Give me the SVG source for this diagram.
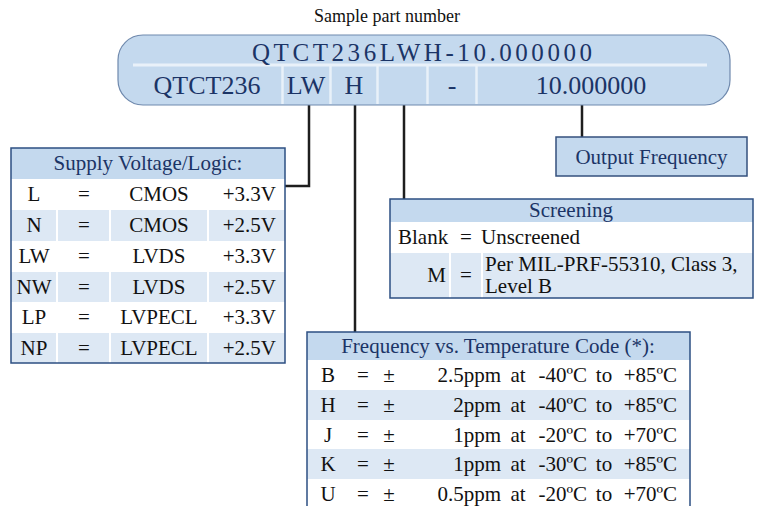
<svg xmlns="http://www.w3.org/2000/svg" width="762" height="506" viewBox="0 0 762 506">
<style>
text{font-family:"Liberation Serif","Times New Roman",serif;}
.t{font-size:21px;fill:#111;}
.hd{font-size:21px;fill:#1b3466;}
.c{text-anchor:middle;}
.e{text-anchor:end;}
.hf{fill:#c4d9ee;}
.alt{fill:#dde8f4;}
.brd{fill:none;stroke:#2d4f82;stroke-width:1.5;}
.dv{stroke:#ffffff;stroke-width:2;}
.con{fill:none;stroke:#1e1e1e;stroke-width:2.5;}
</style>
<rect width="762" height="506" fill="#ffffff"/>
<g id="title"><text x="387" y="22" class="c" font-size="18" fill="#111">Sample part number</text></g>
<g id="connectors">
<path class="con" d="M309 105 V186 H285"/>
<path class="con" d="M355 105 V332"/>
<path class="con" d="M404 105 V199"/>
<path class="con" d="M582 105 V137"/>
</g>
<g id="part-number">
<rect x="118" y="35" width="612" height="70" rx="25" fill="#c4d9ee" stroke="#6f89ad" stroke-width="1.2"/>
<line x1="133" y1="65" x2="707" y2="65" stroke="#e9f1f9" stroke-width="3"/>
<g stroke="#e9f1f9" stroke-width="2.5">
<line x1="282.5" y1="66" x2="282.5" y2="104"/>
<line x1="330.5" y1="66" x2="330.5" y2="104"/>
<line x1="377.5" y1="66" x2="377.5" y2="104"/>
<line x1="427.5" y1="66" x2="427.5" y2="104"/>
<line x1="476.5" y1="66" x2="476.5" y2="104"/>
</g>
<text x="252" y="61" font-size="25" fill="#1b3466" textLength="340" lengthAdjust="spacing">QTCT236LWH-10.000000</text>
<g font-size="26" fill="#1b3466" text-anchor="middle">
<text x="207" y="94">QTCT236</text>
<text x="306" y="94">LW</text>
<text x="354" y="94">H</text>
<text x="452" y="94">-</text>
<text x="591" y="94">10.000000</text>
</g>
</g>
<g id="output-frequency">
<rect x="556" y="137" width="191" height="39" fill="#c4d9ee" stroke="#34507d" stroke-width="1.5"/>
<text x="651.5" y="164" class="hd c">Output Frequency</text>
</g>
<g id="supply-voltage">
<rect x="11" y="148" width="274" height="31" class="hf"/>
<rect x="11" y="179" width="274" height="184" fill="#fff"/>
<rect x="11" y="210" width="274" height="31" class="alt"/>
<rect x="11" y="272" width="274" height="30" class="alt"/>
<rect x="11" y="333" width="274" height="30" class="alt"/>
<line class="dv" x1="57" y1="179" x2="57" y2="363"/>
<line class="dv" x1="110" y1="179" x2="110" y2="363"/>
<line class="dv" x1="208" y1="179" x2="208" y2="363"/>
<rect x="11" y="148" width="274" height="215" class="brd"/>
<text x="148" y="170" class="hd c">Supply Voltage/Logic:</text>
<g class="t">
<text x="34" y="201" class="c">L</text><text x="84" y="201" class="c">=</text><text x="159" y="201" class="c">CMOS</text><text x="276" y="201" class="e">+3.3V</text>
<text x="34" y="232" class="c">N</text><text x="84" y="232" class="c">=</text><text x="159" y="232" class="c">CMOS</text><text x="276" y="232" class="e">+2.5V</text>
<text x="34" y="263" class="c">LW</text><text x="84" y="263" class="c">=</text><text x="159" y="263" class="c">LVDS</text><text x="276" y="263" class="e">+3.3V</text>
<text x="34" y="294" class="c">NW</text><text x="84" y="294" class="c">=</text><text x="159" y="294" class="c">LVDS</text><text x="276" y="294" class="e">+2.5V</text>
<text x="34" y="324" class="c">LP</text><text x="84" y="324" class="c">=</text><text x="159" y="324" class="c">LVPECL</text><text x="276" y="324" class="e">+3.3V</text>
<text x="34" y="355" class="c">NP</text><text x="84" y="355" class="c">=</text><text x="159" y="355" class="c">LVPECL</text><text x="276" y="355" class="e">+2.5V</text>
</g>
</g>
<g id="screening">
<rect x="390" y="199" width="363" height="23" class="hf"/>
<rect x="390" y="222" width="363" height="31" fill="#fff"/>
<rect x="390" y="253" width="363" height="45" class="alt"/>
<line class="dv" x1="450" y1="253" x2="450" y2="298"/>
<line class="dv" x1="482" y1="253" x2="482" y2="298"/>
<rect x="390" y="199" width="363" height="99" class="brd"/>
<text x="571" y="217" class="hd c" font-size="19">Screening</text>
<g class="t" font-size="20">
<text x="398" y="244">Blank</text><text x="466" y="244" class="c">=</text><text x="481" y="244">Unscreened</text>
<text x="446" y="282" class="e">M</text><text x="466" y="282" class="c">=</text>
</g>
<g class="t" font-size="19.5">
<text x="485" y="271">Per MIL-PRF-55310, Class 3,</text>
<text x="485" y="293">Level B</text>
</g>
</g>
<g id="freq-temp">
<rect x="307" y="332" width="383" height="28" class="hf"/>
<rect x="307" y="360" width="383" height="150" fill="#fff"/>
<rect x="307" y="390" width="383" height="30" class="alt"/>
<rect x="307" y="449" width="383" height="30" class="alt"/>
<rect x="307" y="332" width="383" height="178" class="brd"/>
<text x="498" y="353" class="hd c">Frequency vs. Temperature Code (*):</text>
<g class="t">
<text x="328" y="382" class="c">B</text><text x="363" y="382" class="c">=</text><text x="389" y="382" class="c">±</text><text x="501" y="382" class="e">2.5ppm</text><text x="518" y="382" class="c">at</text><text x="587" y="382" class="e">-40ºC</text><text x="604" y="382" class="c">to</text><text x="677" y="382" class="e">+85ºC</text>
<text x="328" y="412" class="c">H</text><text x="363" y="412" class="c">=</text><text x="389" y="412" class="c">±</text><text x="501" y="412" class="e">2ppm</text><text x="518" y="412" class="c">at</text><text x="587" y="412" class="e">-40ºC</text><text x="604" y="412" class="c">to</text><text x="677" y="412" class="e">+85ºC</text>
<text x="328" y="442" class="c">J</text><text x="363" y="442" class="c">=</text><text x="389" y="442" class="c">±</text><text x="501" y="442" class="e">1ppm</text><text x="518" y="442" class="c">at</text><text x="587" y="442" class="e">-20ºC</text><text x="604" y="442" class="c">to</text><text x="677" y="442" class="e">+70ºC</text>
<text x="328" y="471" class="c">K</text><text x="363" y="471" class="c">=</text><text x="389" y="471" class="c">±</text><text x="501" y="471" class="e">1ppm</text><text x="518" y="471" class="c">at</text><text x="587" y="471" class="e">-30ºC</text><text x="604" y="471" class="c">to</text><text x="677" y="471" class="e">+85ºC</text>
<text x="328" y="501" class="c">U</text><text x="363" y="501" class="c">=</text><text x="389" y="501" class="c">±</text><text x="501" y="501" class="e">0.5ppm</text><text x="518" y="501" class="c">at</text><text x="587" y="501" class="e">-20ºC</text><text x="604" y="501" class="c">to</text><text x="677" y="501" class="e">+70ºC</text>
</g>
</g>
</svg>
